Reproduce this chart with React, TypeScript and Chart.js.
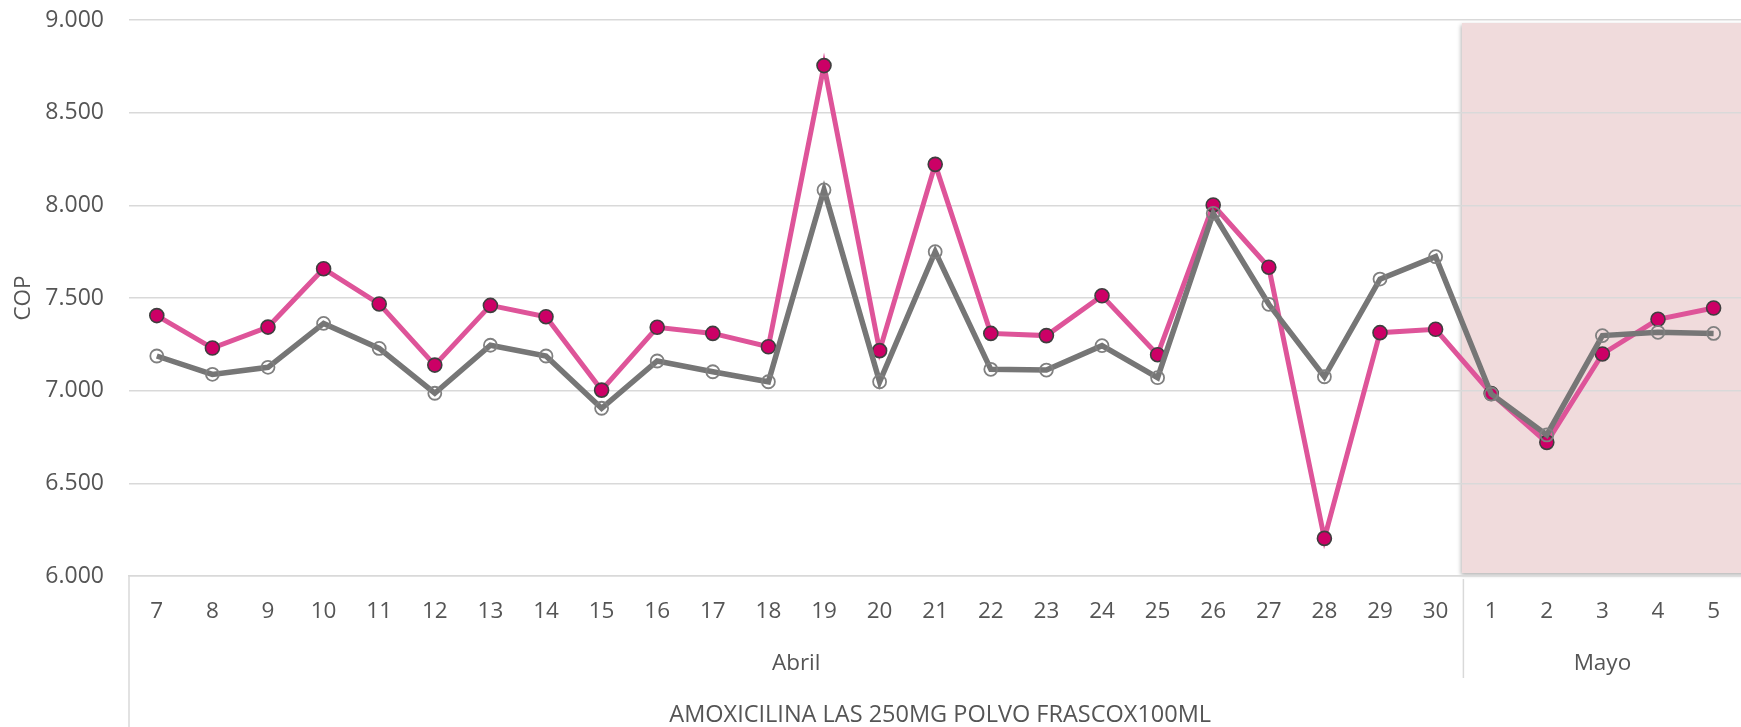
import React, { useEffect, useRef } from "react";
import { Chart, registerables } from "chart.js";

Chart.register(...registerables);

const days = [
  "7", "8", "9", "10", "11", "12", "13", "14", "15", "16", "17", "18", "19", "20",
  "21", "22", "23", "24", "25", "26", "27", "28", "29", "30",
  "1", "2", "3", "4", "5",
];
const months = ["Abril", "Mayo"];
const monthDayCounts = [24, 5];
const productLabel = "AMOXICILINA LAS 250MG POLVO FRASCOX100ML";

const pinkValues = [
  7405, 7230, 7343, 7658, 7468, 7138, 7460, 7399,
  7003, 7342, 7309, 7237, 8754, 7216, 8221, 7309,
  7297, 7512, 7194, 8002, 7666, 6203, 7313, 7331,
  6985, 6721, 7198, 7385, 7446,
];
const greyValues = [
  7187, 7088, 7126, 7363, 7228, 6986, 7245, 7187,
  6905, 7160, 7102, 7048, 8083, 7048, 7750, 7115,
  7111, 7243, 7070, 7957, 7466, 7075, 7602, 7723,
  6982, 6761, 7297, 7315, 7309,
];
const yMin = 6000;
const yMax = 9000;
const yStep = 500;
const yTitle = "COP";

const FONT = "'Open Sans', 'Noto Sans', sans-serif";
const TEXT = "#555555";
const GRID = "#d9d9d9";

const fmt = (v: number) => String(Math.round(v)).replace(/\B(?=(\d{3})+(?!\d))/g, ".");

const decorPlugin = {
  id: "decor",
  beforeDraw(chart: any) {
    const { ctx, scales } = chart;
    const x = scales.x;
    const y = scales.y;
    const start = monthDayCounts[0];
    const left = (x.getPixelForValue(start - 1) + x.getPixelForValue(start)) / 2 - 1.5;
    const top = y.getPixelForValue(yMax) + 3;
    const bottom = y.getPixelForValue(yMin) - 3;
    ctx.save();
    ctx.shadowColor = "rgba(0,0,0,0.3)";
    ctx.shadowBlur = 4;
    ctx.shadowOffsetX = -1;
    ctx.shadowOffsetY = 2;
    ctx.fillStyle = "rgb(240,219,220)";
    ctx.fillRect(left, top, chart.width - left + 20, bottom - top);
    ctx.restore();
  },
  afterDraw(chart: any) {
    const { ctx, scales, chartArea } = chart;
    const x = scales.x;
    const axisTop = chartArea.bottom;
    ctx.save();
    ctx.strokeStyle = GRID;
    ctx.lineWidth = 1.5;
    ctx.beginPath();
    ctx.moveTo(chartArea.left, axisTop);
    ctx.lineTo(chartArea.left, chart.height);
    ctx.stroke();
    ctx.fillStyle = TEXT;
    ctx.font = `22.5px ${FONT}`;
    ctx.textAlign = "center";
    ctx.textBaseline = "middle";
    let idx = 0;
    const half = (x.getPixelForValue(1) - x.getPixelForValue(0)) / 2;
    months.forEach((m, i) => {
      const first = idx;
      const last = idx + monthDayCounts[i] - 1;
      const l = x.getPixelForValue(first) - half;
      const r = x.getPixelForValue(last) + half;
      if (i > 0) {
        ctx.beginPath();
        ctx.moveTo(l, axisTop + 3);
        ctx.lineTo(l, axisTop + 102);
        ctx.stroke();
      }
      ctx.fillText(m, (l + r) / 2, axisTop + 88);
      idx += monthDayCounts[i];
    });
    const l0 = x.getPixelForValue(0) - half;
    const r0 = x.getPixelForValue(days.length - 1) + half;
    ctx.font = `23.5px ${FONT}`;
    ctx.fillText(productLabel, (l0 + r0) / 2 + 5, axisTop + 139);
    ctx.restore();
  },
};

export default function App() {
  const ref = useRef<HTMLCanvasElement | null>(null);

  useEffect(() => {
    if (!ref.current) return;
    const chart = new Chart(ref.current, {
      type: "line",
      data: {
        labels: days,
        datasets: [
          {
            label: "Serie 2",
            data: greyValues,
            order: 0,
            borderColor: "rgb(118,118,118)",
            borderWidth: 5.5,
            pointRadius: 6.5,
            pointBorderWidth: 1.8,
            pointBorderColor: "rgb(128,128,128)",
            pointBackgroundColor: "rgba(0,0,0,0)",
            pointHoverRadius: 6.5,
            tension: 0,
          },
          {
            label: "Serie 1",
            data: pinkValues,
            order: 1,
            borderColor: "rgb(222,84,153)",
            borderWidth: 5,
            pointRadius: 7,
            pointBorderWidth: 1.6,
            pointBorderColor: "#3f3f3f",
            pointBackgroundColor: "#cc0066",
            pointHoverRadius: 7,
            tension: 0,
          },
        ],
      },
      options: {
        responsive: false,
        animation: false,
        events: [],
        layout: { padding: { top: 20, right: 3, left: 0, bottom: 0 } },
        plugins: { legend: { display: false }, tooltip: { enabled: false } },
        scales: {
          x: {
            type: "category",
            offset: true,
            grid: { display: false, drawTicks: false },
            border: { display: true, color: GRID, width: 1.5 },
            ticks: {
              color: TEXT,
              font: { family: FONT, size: 22.5 },
              padding: 22,
              maxRotation: 0,
              autoSkip: false,
            },
            afterFit: (s: any) => {
              s.height = 151;
              s.paddingLeft = 0;
              s.paddingRight = 0;
            },
          },
          y: {
            min: yMin,
            max: yMax,
            grid: { color: GRID, lineWidth: 1.5, drawTicks: false },
            border: { display: false },
            ticks: {
              stepSize: yStep,
              color: TEXT,
              font: { family: FONT, size: 23 },
              padding: 25,
              callback: (v: any) => fmt(Number(v)),
            },
            title: {
              display: true,
              text: yTitle,
              color: TEXT,
              font: { family: FONT, size: 22.5 },
              padding: { top: 10, bottom: 0 },
            },
            afterFit: (s: any) => {
              s.width = 129;
              s.paddingTop = 0;
              s.paddingBottom = 0;
            },
          },
        },
      },
      plugins: [decorPlugin],
    });
    return () => chart.destroy();
  }, []);

  return (
    <div style={{ position: "fixed", left: 0, top: 0, width: "100vw", height: "100vh", overflow: "hidden", background: "#fff" }}>
      <canvas ref={ref} width={1750} height={727} style={{ display: "block", width: "1750px", height: "727px" }} />
    </div>
  );
}
